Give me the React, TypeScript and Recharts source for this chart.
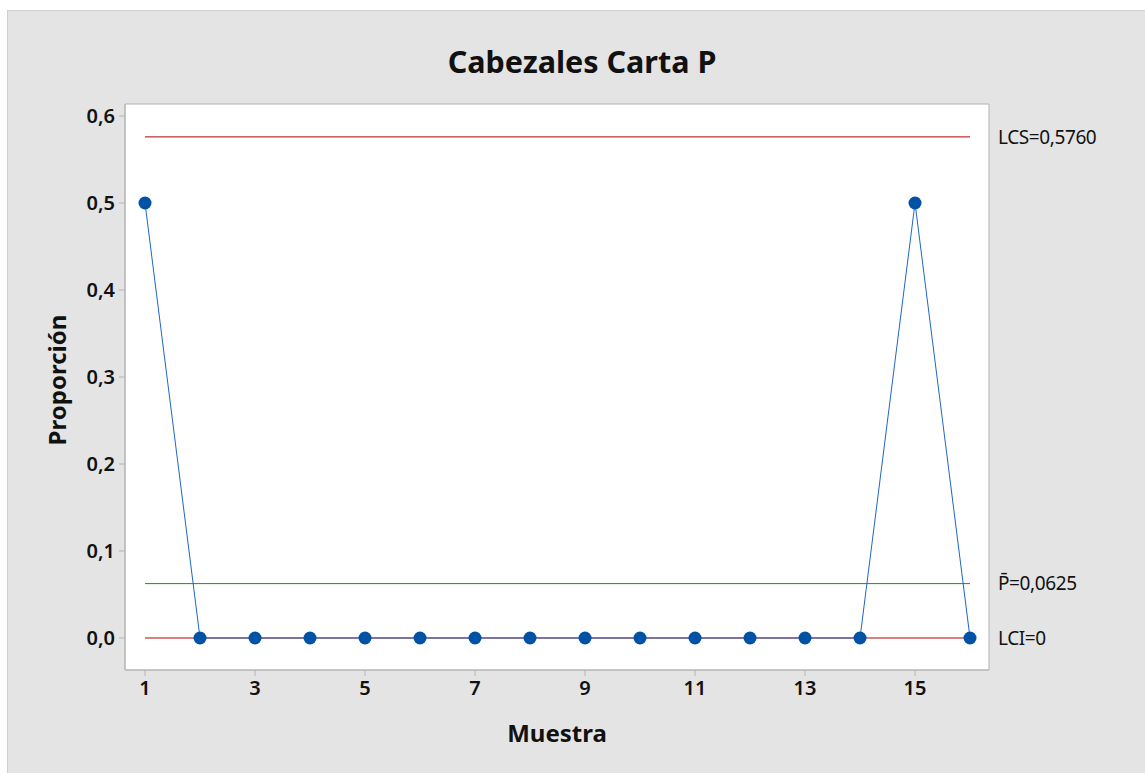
import React from 'react';
import { LineChart, Line, XAxis, YAxis, ReferenceLine, ReferenceArea, Label } from 'recharts';

const muestras = [1, 2, 3, 4, 5, 6, 7, 8, 9, 10, 11, 12, 13, 14, 15, 16];
const proporcion = [0.5, 0, 0, 0, 0, 0, 0, 0, 0, 0, 0, 0, 0, 0, 0.5, 0];
const LCS = 0.576;
const PBAR = 0.0625;
const LCI = 0;
const yTicks = [0, 0.1, 0.2, 0.3, 0.4, 0.5, 0.6];
const xTicks = [1, 3, 5, 7, 9, 11, 13, 15];
const xDomain = [0.636, 16.345];
const yDomain = [-0.0368, 0.6138];

const data = muestras.map((m, i) => ({ x: m, p: proporcion[i], lcs: LCS, pbar: PBAR, lci: LCI }));

const FONT = '"Noto Sans", "Open Sans", sans-serif';
const fmt = (v: number) => v.toFixed(1).replace('.', ',');
const refLabel = { position: 'right' as const, offset: 9, fill: '#111', fontSize: 19, fontFamily: FONT, letterSpacing: -0.4 };

export default function App() {
  return (
    <div style={{ position: 'absolute', left: 0, top: 0, width: 1145, height: 773, background: '#fff' }}>
      <div style={{ position: 'absolute', left: 7, top: 10, width: 1145, height: 773, background: '#e4e4e4', border: '1px solid #cfcfcf' }} />
      <div style={{ position: 'absolute', left: 0, top: 0 }}>
        <LineChart width={1145} height={773} data={data} margin={{ top: 104, right: 156, bottom: 63, left: 65 }} style={{ fontFamily: FONT }}>
          <text x={582} y={73} textAnchor="middle" fontFamily={FONT} fontSize={30.5} fontWeight={700} fill="#111">Cabezales Carta P</text>
          <text x={66} y={380} transform="rotate(-90 66 380)" textAnchor="middle" fontFamily={FONT} fontSize={24} fontWeight={700} fill="#111">Proporción</text>
          <ReferenceArea x1={xDomain[0]} x2={xDomain[1]} y1={yDomain[0]} y2={yDomain[1]} fill="#fff" fillOpacity={1} stroke="#b4b4b4" strokeWidth={1} ifOverflow="visible" />
          <XAxis type="number" dataKey="x" domain={xDomain} ticks={xTicks} allowDataOverflow height={40}
            axisLine={{ stroke: '#b4b4b4' }} tickLine={{ stroke: '#b4b4b4' }} tickSize={6}
            tick={{ fill: '#111', fontSize: 20, fontWeight: 600, fontFamily: FONT }} tickMargin={5}>
            <Label value="Muestra" position="insideBottom" offset={-32} style={{ fontSize: 24, fontWeight: 700, fill: '#111', fontFamily: FONT }} />
          </XAxis>
          <YAxis type="number" domain={yDomain} ticks={yTicks} allowDataOverflow width={60} tickFormatter={fmt}
            axisLine={{ stroke: '#b4b4b4' }} tickLine={{ stroke: '#b4b4b4' }} tickSize={6}
            tick={{ fill: '#111', fontSize: 20, fontWeight: 600, fontFamily: FONT }} tickMargin={4} />
          <Line dataKey="lcs" stroke="#b40000" strokeWidth={1} dot={false} isAnimationActive={false} />
          <Line dataKey="pbar" stroke="#00a000" strokeWidth={1} dot={false} isAnimationActive={false} />
          <Line dataKey="lci" stroke="#b40000" strokeWidth={1} dot={false} isAnimationActive={false} />
          <Line dataKey="p" stroke="#1f66c4" strokeWidth={1} dot={{ r: 6.5, fill: '#0052a5', stroke: '#0052a5', strokeWidth: 0 }} isAnimationActive={false} />
          <ReferenceLine y={LCS} stroke="none" label={{ value: 'LCS=0,5760', ...refLabel }} />
          <ReferenceLine y={PBAR} stroke="none" label={{ value: 'P\u0304=0,0625', ...refLabel }} />
          <ReferenceLine y={LCI} stroke="none" label={{ value: 'LCI=0', ...refLabel }} />
        </LineChart>
      </div>
    </div>
  );
}
